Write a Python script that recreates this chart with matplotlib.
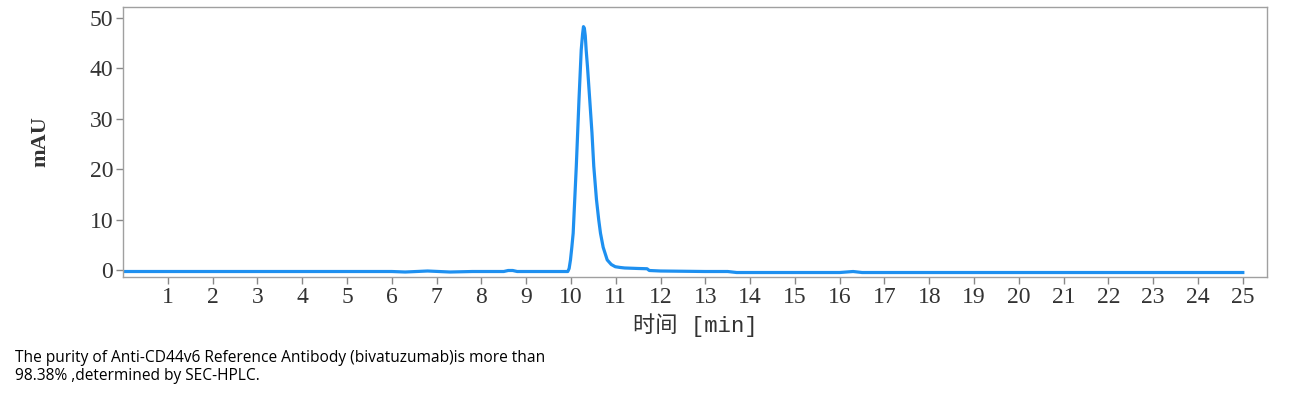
import matplotlib
matplotlib.use("Agg")
import matplotlib.pyplot as plt

# Chromatogram trace (time in min, absorbance in mAU)
time_min = [0.0, 2.0, 4.0, 6.0, 6.3, 6.8, 7.3, 7.8, 8.0, 8.5, 8.6, 8.7, 8.8, 9.5, 9.93,
            9.96, 9.99, 10.02, 10.05, 10.12, 10.18, 10.23, 10.26, 10.28, 10.30, 10.32,
            10.34, 10.37, 10.42, 10.47, 10.51, 10.57, 10.62, 10.66, 10.72, 10.81, 10.9,
            10.99, 11.1, 11.2, 11.5, 11.7, 11.75, 12.0, 13.0, 13.5, 13.7, 14.0, 16.0,
            16.3, 16.5, 18.0, 20.0, 22.0, 24.0, 25.0]
absorb_mau = [-0.3, -0.3, -0.3, -0.3, -0.4, -0.2, -0.4, -0.3, -0.3, -0.3, -0.1, -0.1, -0.3, -0.3, -0.3,
              0.3, 2.0, 4.5, 7.3, 20.6, 33.8, 43.7, 46.8, 48.3, 48.0, 46.5,
              43.7, 40.3, 33.8, 27.2, 20.6, 14.0, 10.0, 7.3, 4.5, 2.0, 1.1,
              0.65, 0.5, 0.4, 0.3, 0.25, -0.1, -0.2, -0.3, -0.3, -0.5, -0.5, -0.5,
              -0.3, -0.5, -0.5, -0.5, -0.5, -0.5, -0.5]

x_ticks = list(range(1, 26))
y_ticks = [0, 10, 20, 30, 40, 50]
x_label = "时间 [min]"
y_label = "mAU"
caption = ("The purity of Anti-CD44v6 Reference Antibody (bivatuzumab)is more than\n"
           "98.38% ,determined by SEC-HPLC.")

serif = ["Liberation Serif", "Noto Sans CJK SC", "DejaVu Sans"]
mono = ["Liberation Mono", "Noto Sans CJK SC", "DejaVu Sans"]

fig = plt.figure(figsize=(13.04, 3.94), dpi=100)
ax = fig.add_axes([123 / 1304, 1 - 277 / 394, (1267 - 123) / 1304, (277 - 7) / 394])

ax.plot(time_min, absorb_mau, color="#1E90F0", lw=2.3, solid_joinstyle="round")

ax.set_xlim(0, 25.54)
ax.set_ylim(-1.39, 52.2)
ax.set_xticks(x_ticks)
ax.set_yticks(y_ticks)
ax.set_xticklabels([str(t) for t in x_ticks], family=serif, fontsize=17, color="#333333")
ax.set_yticklabels([str(t) for t in y_ticks], family=serif, fontsize=17, color="#333333")
ax.tick_params(length=5, width=1, color="#888888", pad=2)

for s in ax.spines.values():
    s.set_color("#A0A0A0")
    s.set_linewidth(1)

ax.set_xlabel(x_label, family=mono, fontsize=16, color="#333333", labelpad=4)
ax.set_ylabel(y_label, family=serif, fontsize=16, color="#333333", fontweight="bold", labelpad=28)

fig.text(15 / 1304, 1 - 350 / 394, caption, family=["Open Sans", "DejaVu Sans"],
         fontsize=11.2, color="black", va="top", ha="left", linespacing=1.15)

fig.savefig("out.png", dpi=100)
